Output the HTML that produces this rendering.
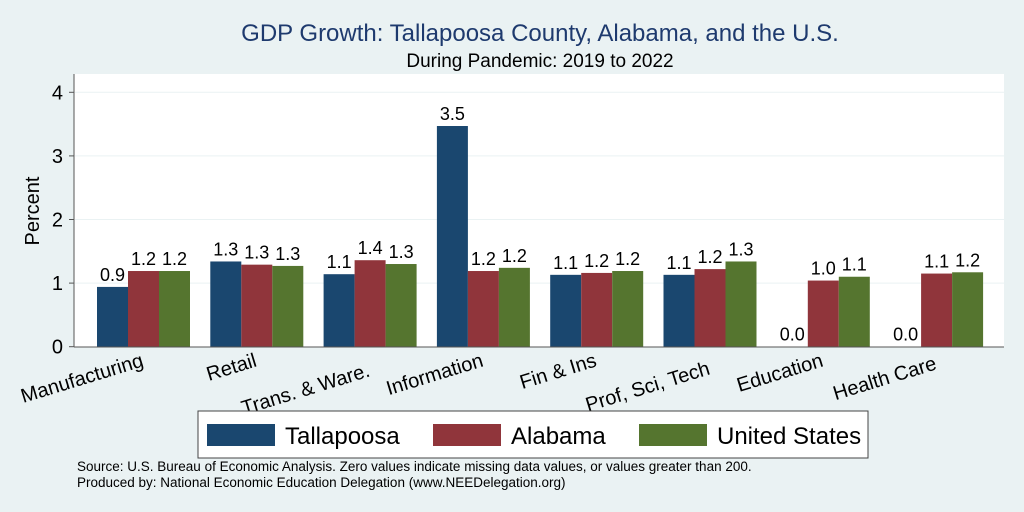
<!DOCTYPE html>
<html><head><meta charset="utf-8"><style>
body{margin:0;background:#eaf2f3;}
svg{display:block;font-family:"Liberation Sans",sans-serif;}
</style></head><body>
<svg id="c" width="1024" height="512">
<rect width="1024" height="512" fill="#eaf2f3"/>
<text x="540" y="41" font-size="24" fill="#1e3a6e" text-anchor="middle">GDP Growth: Tallapoosa County, Alabama, and the U.S.</text>
<text x="540" y="67" font-size="19" fill="#000" text-anchor="middle">During Pandemic: 2019 to 2022</text>
<rect x="74" y="74" width="930" height="273" fill="#fff"/>
<g id="grid"></g><g id="bars"></g><g id="xl"></g>
<line x1="74" y1="74" x2="74" y2="347" stroke="#555"/>
<line x1="74" y1="347" x2="1004" y2="347" stroke="#555"/>
<text transform="translate(39,211) rotate(-90)" font-size="20" text-anchor="middle">Percent</text>
<g>
<rect x="198" y="411" width="670" height="47" fill="#fff" stroke="#444"/>
<rect x="207" y="424" width="68" height="22" fill="#1a476f"/>
<text x="285" y="444" font-size="24">Tallapoosa</text>
<rect x="433" y="424" width="68" height="22" fill="#90353b"/>
<text x="511" y="444" font-size="24">Alabama</text>
<rect x="639" y="424" width="68" height="22" fill="#55752f"/>
<text x="717" y="444" font-size="24">United States</text>
</g>
<text x="77" y="471" font-size="13.5">Source: U.S. Bureau of Economic Analysis. Zero values indicate missing data values, or values greater than 200.</text>
<text x="77" y="487" font-size="13.5">Produced by: National Economic Education Delegation (www.NEEDelegation.org)</text>
</svg>
<script>
const categories=["Manufacturing","Retail","Trans. & Ware.","Information","Fin & Ins","Prof, Sci, Tech","Education","Health Care"];
const tallapoosa=[0.94,1.34,1.14,3.47,1.13,1.13,0,0];
const alabama=[1.19,1.29,1.36,1.19,1.16,1.22,1.04,1.15];
const unitedStates=[1.19,1.27,1.30,1.24,1.19,1.34,1.10,1.17];
const yTicks=[0,1,2,3,4];
const NS="http://www.w3.org/2000/svg";
const y=v=>346.7-v*63.6;
const gx=i=>143.5+i*113.3;
function mk(t,a,p){const e=document.createElementNS(NS,t);for(const k in a)e.setAttribute(k,a[k]);p.appendChild(e);return e;}
const grid=document.getElementById('grid'),bars=document.getElementById('bars'),xl=document.getElementById('xl');
yTicks.forEach(t=>{
  if(t>0){const g=mk('line',{x1:75,x2:1004,y1:y(t),y2:y(t),stroke:'#eaf2f3'},grid);
  
  }
  mk('line',{x1:69,x2:74,y1:y(t),y2:y(t),stroke:'#555'},grid);
  const l=mk('text',{x:63,y:y(t)+7,'font-size':20,'text-anchor':'end'},grid);l.textContent=t;
  
  
});
const series=[[tallapoosa,'#1a476f','tallapoosa'],[alabama,'#90353b','alabama'],[unitedStates,'#55752f','us']];
const offs=[0,0,10,0,0,8,0,3];
categories.forEach((c,i)=>{
  series.forEach(([d,col,nm],j)=>{
    const x=gx(i)-46.5+j*31,v=d[i];
    const r=mk('rect',{x:x,y:y(v),width:31,height:y(0)-y(v),fill:col},bars);
    
    
    const t=mk('text',{x:x+15.5,y:y(v)-6,'font-size':18,'text-anchor':'middle'},bars);
    t.textContent=v.toFixed(1);
    
    
  });
  const lt=mk('text',{transform:`translate(${gx(i)+1},${366+offs[i]}) rotate(-17)`,'font-size':20,'text-anchor':'end'},xl);
  lt.textContent=c;
  
  
});
</script>
</body></html>
